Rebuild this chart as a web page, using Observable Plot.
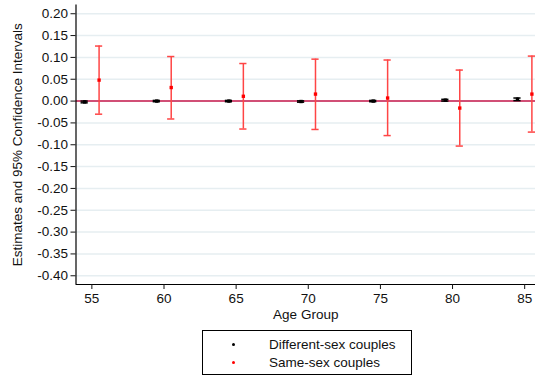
<!DOCTYPE html>
<html>
<head>
<meta charset="utf-8">
<script src="https://cdn.jsdelivr.net/npm/d3@7"></script>
<script src="https://cdn.jsdelivr.net/npm/@observablehq/plot@0.6"></script>
<style>
  html, body { margin: 0; padding: 0; background: #fff; }
  body { width: 535px; height: 377px; position: relative; overflow: hidden; font-family: "Liberation Sans", Arial, Helvetica, sans-serif; }
  #legend { position: absolute; left: 202px; top: 330px; width: 210px; height: 45px; border: 1px solid #000; box-sizing: border-box; font-size: 13.5px; color: #111; }
  .item { position: absolute; left: 0; width: 100%; height: 18px; line-height: 18px; }
  .item .dot { position: absolute; left: 29px; top: 7px; width: 3px; height: 3px; border-radius: 50%; }
  .item .lab { position: absolute; left: 66px; top: 0; white-space: nowrap; }
</style>
</head>
<body>
<div id="chart"></div>
<div id="legend">
  <div class="item" style="top:5px"><span class="dot" style="background:#000"></span><span class="lab">Different-sex couples</span></div>
  <div class="item" style="top:23px"><span class="dot" style="background:#ff0000"></span><span class="lab">Same-sex couples</span></div>
</div>
<script>
const ages = [55, 60, 65, 70, 75, 80, 85];
const diffEst = [-0.002, 0.000, 0.000, -0.001, 0.000, 0.002, 0.004];
const diffLo  = [-0.004, -0.0015, -0.0015, -0.0025, -0.0015, 0.000, 0.001];
const diffHi  = [0.000, 0.0015, 0.0015, 0.0005, 0.0015, 0.004, 0.007];
const sameEst = [0.048, 0.031, 0.011, 0.016, 0.007, -0.016, 0.016];
const sameLo  = [-0.030, -0.041, -0.064, -0.065, -0.079, -0.103, -0.071];
const sameHi  = [0.126, 0.102, 0.086, 0.096, 0.094, 0.071, 0.103];
const yTicks = [0.20, 0.15, 0.10, 0.05, 0.00, -0.05, -0.10, -0.15, -0.20, -0.25, -0.30, -0.35, -0.40];
const xTicks = ages;
const seriesNames = ["Different-sex couples", "Same-sex couples"];

const xDomain = [53.9, 85.75];
const yDomain = [-0.42, 0.22];

const rows = [];
ages.forEach((a, i) => {
  rows.push({series: seriesNames[0], age: a, off: -0.5, est: diffEst[i], lo: diffLo[i], hi: diffHi[i]});
  rows.push({series: seriesNames[1], age: a, off: 0.5, est: sameEst[i], lo: sameLo[i], hi: sameHi[i]});
});
const barColor = d => d.series === seriesNames[0] ? "#000" : "#ff4545";
const ptColor = d => d.series === seriesNames[0] ? "#000" : "#ff0000";
const capHalf = 0.25;

const chart = Plot.plot({
  width: 535,
  height: 325,
  marginLeft: 75.5,
  marginRight: 0,
  marginTop: 4.5,
  marginBottom: 41,
  style: {fontFamily: "'Liberation Sans', Arial, Helvetica, sans-serif", fontSize: "13.5px", color: "#111", background: "#fff"},
  x: {domain: xDomain, label: null},
  y: {domain: yDomain, label: null},
  marks: [
    Plot.ruleY(yTicks, {stroke: "#e6eef1", strokeWidth: 1.5}),
    Plot.ruleY([0], {stroke: "#c8194d", strokeWidth: 1.5}),
    Plot.ruleX([xDomain[0]], {stroke: "#000", strokeWidth: 1.2}),
    Plot.ruleY([yDomain[0]], {stroke: "#000", strokeWidth: 1.2}),
    Plot.axisX({ticks: xTicks, tickFormat: d => String(d), tickSize: 5, tickPadding: 4, label: null}),
    Plot.axisY({ticks: yTicks, tickFormat: d => d.toFixed(2), tickSize: 5, tickPadding: 3, label: null}),
    Plot.ruleX(rows, {x: d => d.age + d.off, y1: "lo", y2: "hi", stroke: barColor, strokeWidth: 1.5}),
    Plot.ruleY(rows, {y: "hi", x1: d => d.age + d.off - capHalf, x2: d => d.age + d.off + capHalf, stroke: barColor, strokeWidth: 1.5}),
    Plot.ruleY(rows, {y: "lo", x1: d => d.age + d.off - capHalf, x2: d => d.age + d.off + capHalf, stroke: barColor, strokeWidth: 1.5}),
    Plot.dot(rows, {x: d => d.age + d.off, y: "est", symbol: "square", r: 1.9, fill: ptColor, stroke: "none"}),
    Plot.text(["Age Group"], {x: () => (xDomain[0] + xDomain[1]) / 2, y: () => yDomain[0], dy: 30, text: d => d, fontSize: 13.5, fill: "#111"}),
    Plot.text(["Estimates and 95% Confidence Intervals"], {frameAnchor: "left", dx: -58, y: () => (yDomain[0] + yDomain[1]) / 2, rotate: -90, textAnchor: "middle", text: d => d, fontSize: 13.5, fill: "#111"})
  ]
});
document.getElementById("chart").appendChild(chart);
</script>
</body>
</html>
